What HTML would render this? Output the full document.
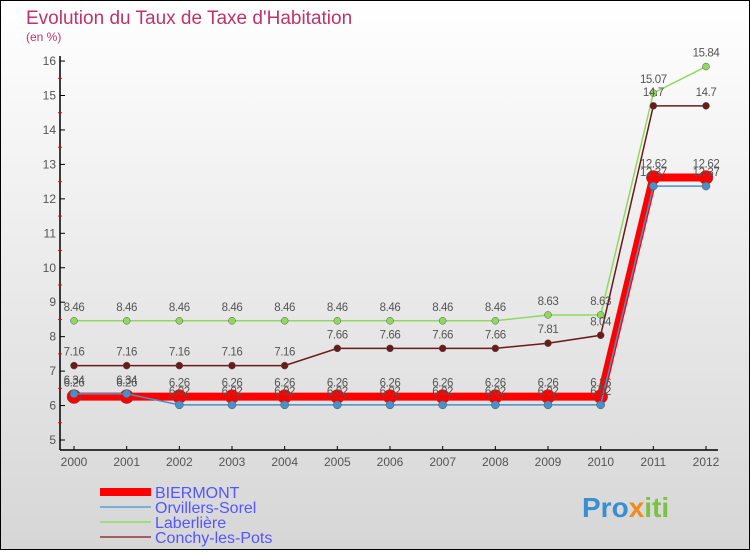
<!DOCTYPE html>
<html><head><meta charset="utf-8"><style>
body{margin:0}
#c{width:750px;height:550px;position:relative;font-family:"Liberation Sans",sans-serif}
</style></head><body>
<div id="c">
<svg id="s" width="750" height="550" xmlns="http://www.w3.org/2000/svg">
<defs><linearGradient id="bg" x1="0" y1="0" x2="0" y2="1"><stop offset="0" stop-color="#ffffff"/><stop offset="1" stop-color="#d6d6d6"/></linearGradient></defs>
<rect x="0.5" y="0.5" width="749" height="549" fill="url(#bg)" stroke="#000"/>
<text x="26" y="24" font-size="19" fill="#c0336a">Evolution du Taux de Taxe d'Habitation</text>
<text x="26" y="41" font-size="12" fill="#c0336a">(en %)</text>
<g id="axes"></g><g id="series"></g><g id="legend"></g>
<text x="582" y="517" font-size="28" font-weight="bold" fill="#3a8fd0">Pro<tspan fill="#f08a1a">x</tspan><tspan fill="#7cc242">iti</tspan></text>
</svg></div>
<script>
const years=[2000,2001,2002,2003,2004,2005,2006,2007,2008,2009,2010,2011,2012];
const yTicks=[5,6,7,8,9,10,11,12,13,14,15,16];
const biermont=[6.26,6.26,6.26,6.26,6.26,6.26,6.26,6.26,6.26,6.26,6.26,12.62,12.62];
const orvillers=[6.34,6.34,6.02,6.02,6.02,6.02,6.02,6.02,6.02,6.02,6.02,12.37,12.37];
const laberliere=[8.46,8.46,8.46,8.46,8.46,8.46,8.46,8.46,8.46,8.63,8.63,15.07,15.84];
const conchy=[7.16,7.16,7.16,7.16,7.16,7.66,7.66,7.66,7.66,7.81,8.04,14.7,14.7];
const NS="http://www.w3.org/2000/svg";
const X=i=>74+i*(632/12), Y=v=>440-(v-5)*34.45;
function el(t,a,p){const e=document.createElementNS(NS,t);for(const k in a)e.setAttribute(k,a[k]);p.appendChild(e);return e;}
const ax=document.getElementById('axes');
let l=el('line',{x1:60,y1:56,x2:60,y2:450,stroke:'#000','stroke-width':1.5},ax);


l=el('line',{x1:60,y1:450,x2:718,y2:450,stroke:'#000','stroke-width':1.5},ax);


yTicks.forEach(v=>{
 el('line',{x1:60,y1:Y(v),x2:65,y2:Y(v),stroke:'#000'},ax);
 if(v<16)el('line',{x1:58,y1:Y(v+0.5),x2:62,y2:Y(v+0.5),stroke:'#f00'},ax);
 const t=el('text',{x:56,y:Y(v)+4,'font-size':12,fill:'#555','text-anchor':'end'},ax);t.textContent=v;
 
 
});
years.forEach((yr,i)=>{
 el('line',{x1:X(i),y1:446,x2:X(i),y2:450,stroke:'#000'},ax);
 const t=el('text',{x:X(i),y:466,'font-size':12,fill:'#555','text-anchor':'middle'},ax);t.textContent=yr;
 
 
});
const sg=document.getElementById('series');
function series(data,color,w,r,name){
 const g=el('g',{},sg);
 
 
 el('polyline',{points:data.map((v,i)=>X(i)+','+Y(v)).join(' '),fill:'none',stroke:color,'stroke-width':w},g);
 data.forEach((v,i)=>{
  const c=el('circle',{cx:X(i),cy:Y(v),r:r,fill:color,stroke:'#555','stroke-width':0.5},g);
  
  
  const t=el('text',{x:X(i),y:Y(v)-10,'font-size':11.5,fill:'#555','text-anchor':'middle','letter-spacing':'-0.4'},g);t.textContent=String(v);
  
  
 });
}
series(laberliere,'#90d860',1.5,3.5,'laberliere');
series(conchy,'#6b1a1a',1.5,3.5,'conchy');
series(biermont,'#ff0000',8,7,'biermont');
series(orvillers,'#4a90c8',1.5,4,'orvillers');
const lg=document.getElementById('legend');
[['BIERMONT','#ff0000',8],['Orvillers-Sorel','#7ab0d8',2],['Laberlière','#a0dc80',2],['Conchy-les-Pots','#a06060',2]].forEach((d,i)=>{
 const y=492+i*15;
 const g=el('g',{},lg);
 
 
 el('line',{x1:100,y1:y,x2:151,y2:y,stroke:d[1],'stroke-width':d[2]},g);
 const t=el('text',{x:155,y:y+6,'font-size':16,fill:'#5555ff'},g);t.textContent=d[0];
});
</script>
</body></html>
